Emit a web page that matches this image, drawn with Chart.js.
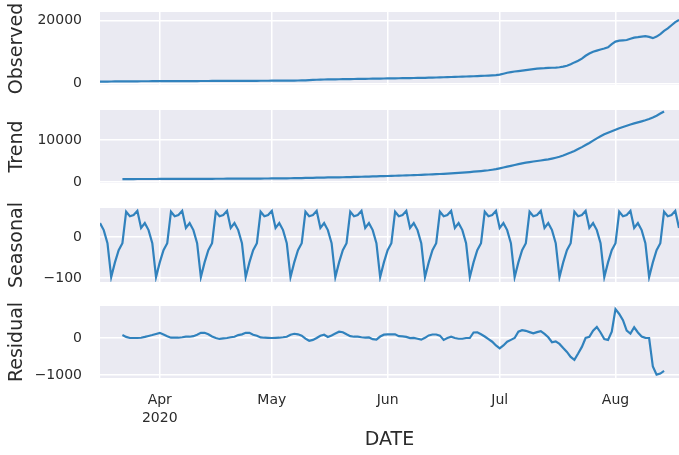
<!DOCTYPE html>
<html>
<head>
<meta charset="utf-8">
<script src="https://cdn.jsdelivr.net/npm/chart.js@4.4.0/dist/chart.umd.min.js"></script>
<style>
  body { margin: 0; background: #fff; }
  #wrap { position: relative; width: 679px; height: 455px; }
  canvas { position: absolute; left: 0; top: 0; }
</style>
</head>
<body>
<div id="wrap">
  <canvas id="obs" width="679" height="455"></canvas>
  <canvas id="trend" width="679" height="455"></canvas>
  <canvas id="seas" width="679" height="455"></canvas>
  <canvas id="resid" width="679" height="455"></canvas>
</div>
<script>
// days counted from 2020-03-16
var days = [];
for (var i = 0; i < 158; i++) days.push(i);

// month ticks (Apr 1, May 1, Jun 1, Jul 1, Aug 1)
var monthDays = [16, 46, 77, 107, 138];
var monthLabels = [['Apr', '2020'], 'May', 'Jun', 'Jul', 'Aug'];

var observed = [
  600,610,620,630,640,650,660,670,680,690,
  700,705,710,715,720,725,730,735,740,745,
  750,755,760,765,770,775,780,785,790,795,
  800,805,810,815,820,825,830,835,840,845,
  850,855,860,865,870,875,880,885,890,900,
  910,920,930,950,980,1020,1070,1130,1180,1220,
  1260,1290,1310,1330,1350,1370,1390,1410,1430,1450,
  1470,1490,1510,1530,1550,1570,1590,1610,1630,1650,
  1670,1690,1710,1730,1750,1770,1790,1810,1840,1870,
  1900,1940,1980,2020,2060,2100,2140,2180,2220,2260,
  2300,2350,2400,2460,2520,2580,2650,2800,3100,3400,
  3600,3800,3950,4100,4250,4400,4550,4700,4800,4850,
  4950,5000,5050,5150,5350,5650,6100,6700,7200,7900,
  8800,9500,10100,10450,10800,11100,11500,12500,13300,13600,
  13700,13800,14200,14550,14700,14900,15050,14800,14400,14900,
  15700,16700,17500,18500,19500,20200,20900,21500
];

var trend = [
  null,null,null,null,null,null,
  700,702,704,706,708,710,712,714,716,718,
  720,723,726,729,732,735,738,741,744,747,
  750,754,758,762,766,770,774,778,782,786,
  790,795,800,805,810,815,820,825,830,835,
  840,850,860,870,880,890,900,920,940,960,
  980,1000,1020,1040,1060,1080,1100,1110,1120,1135,
  1150,1175,1200,1225,1250,1275,1300,1325,1350,1375,
  1400,1430,1460,1490,1520,1550,1580,1610,1640,1670,
  1700,1740,1780,1820,1860,1900,1950,2000,2050,2110,
  2170,2230,2300,2370,2450,2530,2610,2700,2800,2920,
  3050,3250,3450,3650,3850,4050,4250,4450,4600,4750,
  4880,5000,5120,5250,5400,5580,5780,6000,6300,6650,
  7000,7400,7850,8300,8800,9300,9850,10400,10900,11350,
  11750,12100,12450,12800,13100,13400,13700,13950,14200,14450,
  14700,15000,15350,15800,16300,16800,
  null,null,null,null,null,null
];

var seasonal = [
  34,17,-15,
  -98,-62,-32,-15,62,51,54,64,22,34,17,-15,
  -98,-62,-32,-15,62,51,54,64,22,34,17,-15,
  -98,-62,-32,-15,62,51,54,64,22,34,17,-15,
  -98,-62,-32,-15,62,51,54,64,22,34,17,-15,
  -98,-62,-32,-15,62,51,54,64,22,34,17,-15,
  -98,-62,-32,-15,62,51,54,64,22,34,17,-15,
  -98,-62,-32,-15,62,51,54,64,22,34,17,-15,
  -98,-62,-32,-15,62,51,54,64,22,34,17,-15,
  -98,-62,-32,-15,62,51,54,64,22,34,17,-15,
  -98,-62,-32,-15,62,51,54,64,22,34,17,-15,
  -98,-62,-32,-15,62,51,54,64,22,34,17,-15,
  -98,-62,-32,-15,62,51,54,64,22,34,17,-15,
  -98,-62,-32,-15,62,51,54,64,22,34,17
];

var resid = [
  null,null,null,null,null,null,
  80,30,0,0,0,8,30,55,80,110,
  140,95,50,10,8,8,20,35,35,50,
  90,140,140,100,40,0,-25,-10,0,20,
  35,80,100,140,140,90,60,15,8,5,
  0,5,8,20,35,90,115,100,62,-15,
  -75,-50,0,62,90,30,70,120,170,155,
  100,50,35,35,20,10,15,-30,-40,40,
  90,100,100,100,50,45,30,0,5,-20,
  -45,5,70,95,95,65,-50,0,35,0,
  -20,-20,0,0,150,153,100,40,-30,-100,
  -200,-280,-200,-100,-50,0,170,210,195,160,
  126,160,185,110,20,-115,-90,-160,-270,-375,
  -510,-590,-420,-240,0,30,200,300,150,-27,
  -50,170,780,650,480,200,120,290,150,40,
  5,0,-770,-990,-960,-890,
  null,null,null,null,null,null
];

var H = 455;
var xMax = 155;
var lineColor = '#3182bd';
var textColor = '#2b2b2b';
var fontFam = "'DejaVu Sans', sans-serif";

// grey panel background like seaborn darkgrid
var bgPlugin = {
  id: 'bg',
  beforeDraw: function(chart) {
    var a = chart.chartArea, ctx = chart.ctx;
    ctx.save();
    ctx.fillStyle = '#eaeaf2';
    ctx.fillRect(a.left, a.top, a.right - a.left, a.bottom - a.top);
    ctx.restore();
  }
};

function fmt(v) {
  return v < 0 ? '\u2212' + Math.abs(v) : String(v);
}

function panel(id, label, values, yMin, yMax, yTicks, top, bottom, last) {
  var pts = [];
  for (var i = 0; i < days.length; i++) {
    if (values[i] !== null) pts.push({x: days[i], y: values[i]});
  }
  return new Chart(document.getElementById(id), {
    type: 'line',
    data: {
      datasets: [{
        data: pts,
        borderColor: lineColor,
        borderWidth: 2.2,
        pointRadius: 0,
        tension: 0,
        fill: false
      }]
    },
    options: {
      responsive: false,
      animation: false,
      events: [],
      layout: { padding: { top: top, bottom: last ? 0 : H - bottom, left: 0, right: 0 } },
      plugins: { legend: { display: false }, tooltip: { enabled: false } },
      scales: {
        x: {
          type: 'linear',
          min: 0,
          max: xMax,
          bounds: 'data',
          afterBuildTicks: function(s) {
            s.ticks = monthDays.map(function(d) { return {value: d}; });
          },
          afterFit: function(s) {
            s.height = last ? H - bottom : 0;
            s.paddingLeft = 0;
            s.paddingRight = 0;
          },
          grid: { color: '#ffffff', lineWidth: 1.5, drawTicks: false },
          border: { display: false },
          ticks: {
            display: last,
            autoSkip: false,
            maxRotation: 0,
            padding: 13,
            color: textColor,
            font: { family: fontFam, size: 14, lineHeight: 1.3 },
            callback: function(v, i) { return monthLabels[i]; }
          },
          title: {
            display: last,
            text: 'DATE',
            color: textColor,
            font: { family: fontFam, size: 19 },
            padding: { top: 0, bottom: 4 }
          }
        },
        y: {
          min: yMin,
          max: yMax,
          bounds: 'data',
          afterBuildTicks: function(s) {
            s.ticks = yTicks.map(function(v) { return {value: v}; });
          },
          afterFit: function(s) {
            s.width = 100;
            s.paddingTop = 0;
            s.paddingBottom = 0;
          },
          grid: { color: '#ffffff', lineWidth: 1.5, drawTicks: false },
          border: { display: false },
          ticks: {
            padding: 18,
            color: textColor,
            font: { family: fontFam, size: 14 },
            callback: function(v) { return fmt(v); }
          },
          title: {
            display: true,
            text: label,
            color: textColor,
            font: { family: fontFam, size: 19 },
            padding: { top: 6, bottom: 0 }
          }
        }
      }
    },
    plugins: [bgPlugin]
  });
}

panel('obs', 'Observed', observed, -480, 22700, [0, 20000], 12, 85, false);
panel('trend', 'Trend', trend, -240, 17150, [0, 10000], 110, 183, false);
panel('seas', 'Seasonal', seasonal, -110, 71, [-100, 0], 208, 282, false);
panel('resid', 'Residual', resid, -1080, 865, [-1000, 0], 306, 378, true);
</script>
</body>
</html>
